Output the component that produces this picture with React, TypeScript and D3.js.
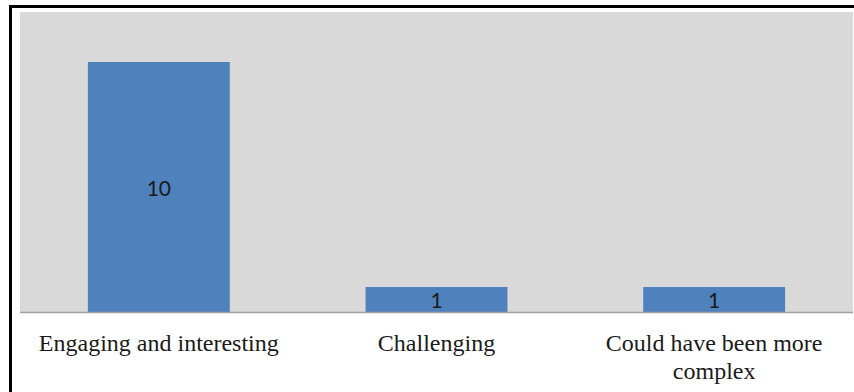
import React from "react";
import * as d3 from "d3";

// Survey responses per category
const categories: string[][] = [
  ["Engaging and interesting"],
  ["Challenging"],
  ["Could have been more", "complex"],
];
const counts: number[] = [10, 1, 1];
const yMax = 12;

const W = 854;
const H = 392;
const plot = { left: 20, right: 853, top: 12, bottom: 312 };

export default function App() {
  const x = d3
    .scaleBand<number>()
    .domain(counts.map((_, i) => i))
    .range([plot.left, plot.right])
    .paddingInner(0.489)
    .paddingOuter(0.2445);
  const y = d3.scaleLinear().domain([0, yMax]).range([plot.bottom, plot.top]);

  return (
    <svg
      width={W}
      height={H}
      viewBox={`0 0 ${W} ${H}`}
      style={{ position: "absolute", left: 0, top: 0, background: "#ffffff" }}
    >
      {/* outer frame */}
      <rect x={10.5} y={6.5} width={900} height={500} fill="#ffffff" stroke="#000000" strokeWidth={3} />
      {/* plot area */}
      <rect
        x={plot.left}
        y={plot.top}
        width={plot.right - plot.left}
        height={plot.bottom - plot.top}
        fill="#d9d9d9"
      />
      {counts.map((v, i) => (
        <g key={i}>
          <rect
            x={x(i)!}
            y={y(v)}
            width={x.bandwidth()}
            height={y(0) - y(v)}
            fill="#4f81bd"
          />
          <text
            x={x(i)! + x.bandwidth() / 2}
            y={(y(v) + y(0)) / 2}
            textAnchor="middle"
            dominantBaseline="central"
            fontFamily="Lato, 'Liberation Sans', sans-serif"
            fontSize={21}
            fill="#1a1a1a"
          >
            {v}
          </text>
        </g>
      ))}
      {/* category axis */}
      <line x1={plot.left} x2={plot.right} y1={plot.bottom + 0.5} y2={plot.bottom + 0.5} stroke="#a0a0a0" strokeWidth={1.5} />
      {categories.map((lines, i) => (
        <text
          key={i}
          x={x(i)! + x.bandwidth() / 2}
          y={351}
          textAnchor="middle"
          fontFamily="'Liberation Serif', 'Times New Roman', serif"
          fontSize={24}
          fill="#1a1a1a"
        >
          {lines.map((t, j) => (
            <tspan key={j} x={x(i)! + x.bandwidth() / 2} dy={j === 0 ? 0 : 28}>
              {t}
            </tspan>
          ))}
        </text>
      ))}
    </svg>
  );
}
